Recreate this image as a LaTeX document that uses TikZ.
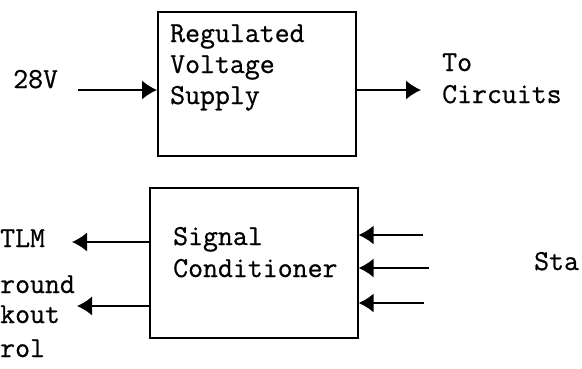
\documentclass[tikz,border=0pt]{standalone}
\usepackage{fontspec}
\newfontfamily\twfont[FakeBold=0.7]{Latin Modern Mono}
\usetikzlibrary{arrows.meta}
\begin{document}
\begin{tikzpicture}[x=1pt,y=-1pt,
  blk/.style={draw,line width=1.6pt,rectangle,inner sep=0pt,anchor=north west},
  lbl/.style={font=\fontsize{29}{31}\selectfont\twfont,inner sep=0pt},
  arr/.style={line width=1.6pt,-{Latex[length=15pt,width=19pt]}}]
\useasboundingbox (0,0) rectangle (582,368);
% boxes
\node[blk,minimum width=198pt,minimum height=144pt] (reg) at (157,11) {};
\node[blk,minimum width=208pt,minimum height=150pt] (sig) at (149,187) {};
% box texts
\node[lbl,anchor=base west] (r1) at (170,42) {Regulated};
\node[lbl,anchor=base west] (r2) at (170,73) {Voltage};
\node[lbl,anchor=base west] (r3) at (170,104) {Supply};
\node[lbl,anchor=base west] (s1) at (173,245) {Signal};
\node[lbl,anchor=base west] (s2) at (173,277) {Conditioner};
% outer labels
\node[lbl,anchor=base west] (v28) at (13,88) {28V};
\node[lbl,anchor=base west] (to) at (442,71) {To};
\node[lbl,anchor=base west] (circ) at (442,103) {Circuits};
\node[lbl,anchor=base west] (tlm) at (0,247) {TLM};
\node[lbl,anchor=base west] (g1) at (0,293) {round};
\node[lbl,anchor=base west] (g2) at (0,323) {kout};
\node[lbl,anchor=base west] (g3) at (0,357) {rol};
\node[lbl,anchor=base west] (sta) at (534,270) {Sta};
% connector ends
\coordinate (inA) at (78,90);
\coordinate (outA) at (421,90);
\coordinate (tlmA) at (72,242);
\coordinate (gndA) at (77,306);
\coordinate (st1) at (423,235);
\coordinate (st2) at (429,268);
\coordinate (st3) at (424,303);
% connectors
\draw[arr] (inA) -- (reg.west |- inA);
\draw[arr] (reg.east |- outA) -- (outA);
\draw[arr] (sig.west |- tlmA) -- (tlmA);
\draw[arr] (sig.west |- gndA) -- (gndA);
\draw[arr] (st1) -- (sig.east |- st1);
\draw[arr] (st2) -- (sig.east |- st2);
\draw[arr] (st3) -- (sig.east |- st3);
\end{tikzpicture}
\end{document}
